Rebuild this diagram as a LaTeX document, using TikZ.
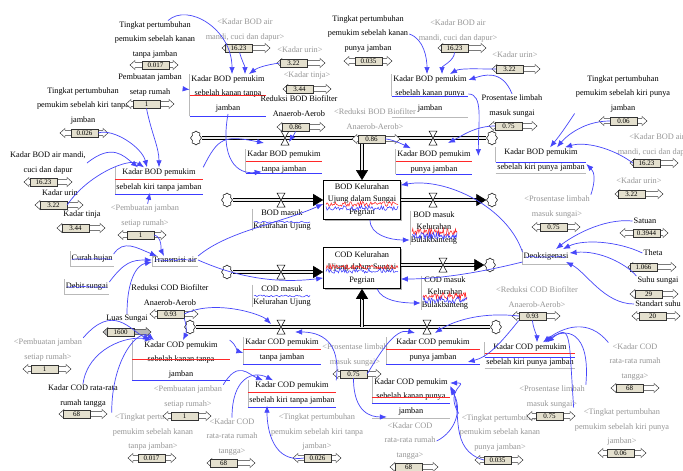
\documentclass[tikz,border=0pt]{standalone}
\usepackage{fontspec}
\setmainfont{Liberation Serif}
\usetikzlibrary{arrows.meta,shapes.symbols,shadows}

\definecolor{linkblue}{RGB}{70,70,250}
\definecolor{shadowgray}{RGB}{150,150,150}
\definecolor{thumbc}{RGB}{228,224,206}
\definecolor{tracered}{RGB}{255,40,40}
\definecolor{traceblue}{RGB}{60,60,255}

\newcommand\vfont{\fontsize{8.3}{14.5}\selectfont}
% slider: [fill] name, x, y, thumb offset, value
\newcommand\slidr[6][white]{%
  \draw[sliderbody,fill=#1] (#3,#4) ++(-24,0) -- ++(5,-4.5) -- ++(0,1.8) -- ++(38,0) -- ++(0,-1.8)
    -- ++(5,4.5) -- ++(-5,4.5) -- ++(0,-1.8) -- ++(-38,0) -- ++(0,1.8) -- cycle;
  \node[thumb] (#2) at ({#3-24+#5+13.5},#4) {#6};}
% valve on a pipe
\newcommand\valve[3]{%
  \coordinate (#1) at (#2,#3);
  \draw[valvebody] ([shift={(-4pt,7pt)}]#1) -- ++(8pt,0pt) -- ++(-8pt,-14pt) -- ++(8pt,0pt) -- cycle;}
% auxiliary with its red and blue traces: name, x, y, width, text, red y, blue y
\newcommand\auxvar[7]{%
  \node[auxname,minimum width=#4] (#1) at (#2,#3) {#5};
  \draw[boxedge] (#1.north west) -- (#1.west |- 0,#7);
  \draw[redtrace] (#1.west |- 0,#6) -- (#1.east |- 0,#6);
  \draw[bluetrace] (#1.west |- 0,#7) -- (#1.east |- 0,#7);}
% noisy trace: style, x1, x2, samples, y, amplitude
\newcommand\trc[6]{%
  \draw[#1,line width=0.55pt] plot[variable=\t,domain=#2:#3,samples=#4] (\t,{#5+#6*rand});}
% rate with a strike trace
\newcommand\ratevar[4]{%
  \node[varname] (#1) at (#2,#3) {#4};
  \draw[boxedge] ([yshift=3pt]#1.north west) -- ([yshift=-2pt]#1.south west) -- ([yshift=-2pt]#1.south east);
  \trc{bluetrace}{#2-20}{#2+20}{25}{#3}{0.6}}

\begin{document}
\begin{tikzpicture}[x=1pt,y=-1pt,
  varname/.style={font=\vfont,align=center,inner sep=1pt},
  shadowname/.style={varname,text=shadowgray},
  flowname/.style={varname,font=\fontsize{8.3}{12.5}\selectfont},
  auxname/.style={varname,inner sep=1.5pt},
  boxedge/.style={draw=gray!55,line width=0.5pt},
  redtrace/.style={draw=tracered,line width=0.7pt},
  bluetrace/.style={draw=traceblue,line width=0.7pt},
  conn/.style={draw=linkblue,line width=0.7pt,-{Latex[length=7pt,width=5.5pt]}},
  pipe/.style={draw=black,double=gray!15,double distance=2.4pt,line width=0.6pt},
  pipehead/.style={draw=black,line width=0.6pt,-{Triangle[length=10pt,width=12pt]}},
  valvebody/.style={draw=black,fill=white,line width=0.5pt},
  cloudend/.style={cloud,cloud puffs=8,cloud ignores aspect,draw=black,fill=white,line width=0.5pt,
    minimum width=11pt,minimum height=14pt,inner sep=0pt},
  stock/.style={draw=black,fill=white,line width=0.6pt,align=center,font=\fontsize{8.3}{12.5}\selectfont,
    drop shadow={fill=gray!60,opacity=1,shadow xshift=1.5pt,shadow yshift=-1.5pt}},
  sliderbody/.style={draw=black!80,line width=0.45pt},
  thumb/.style={draw=black!80,fill=thumbc,line width=0.45pt,minimum width=27pt,minimum height=8.5pt,
    inner sep=0pt,font=\fontsize{7}{7}\selectfont},
]
\pgfmathsetseed{7}
\fill[white] (0,0) rectangle (683,471);
\useasboundingbox (0,0) rectangle (683,471);

% stocks
\node[stock,minimum width=77pt,minimum height=37pt] (bodStock) at (362,200) {BOD Kelurahan\\Ujung dalam Sungai\\Pegrian};
\node[stock,minimum width=77pt,minimum height=41pt] (codStock) at (362,268) {COD Kelurahan\\Ujung dalam Sungai\\Pegrian};
\trc{redtrace}{326}{398}{70}{204}{2.4}
\trc{bluetrace}{326}{398}{70}{208}{2.4}
\trc{redtrace}{326}{398}{70}{267}{2.4}
\trc{bluetrace}{326}{398}{70}{271}{2.4}

% clouds
\node[cloudend] (bodC1) at (196,138) {};
\node[cloudend] (bodC2) at (492,138) {};
\node[cloudend] (bodC3) at (227,200) {};
\node[cloudend] (bodC4) at (492,200) {};
\node[cloudend] (codC1) at (227,272) {};
\node[cloudend] (codC2) at (490,265) {};
\node[cloudend] (codC3) at (190,327) {};
\node[cloudend] (codC4) at (496,327) {};
\coordinate (jB) at (362,138);
\coordinate (jC) at (362,327);

% pipes
\draw[pipe] (bodC1) -- (jB);
\draw[pipe] (bodC2) -- (jB);
\draw[pipe] (jB) -- ([yshift=9pt]bodStock.north);
\draw[pipehead] ([yshift=10pt]bodStock.north) -- (bodStock.north);
\draw[pipe] (bodC3) -- ([xshift=-9pt]bodStock.west);
\draw[pipehead] ([xshift=-10pt]bodStock.west) -- (bodStock.west);
\draw[pipe] (bodStock.east) -- ([xshift=-9pt]bodC4.west);
\draw[pipehead] ([xshift=-10pt]bodC4.west) -- (bodC4.west);
\draw[pipe] (codC1) -- ([shift={(-9pt,-4pt)}]codStock.west);
\draw[pipehead] ([shift={(-10pt,-4pt)}]codStock.west) -- ([yshift=-4pt]codStock.west);
\draw[pipe] ([yshift=3pt]codStock.east) -- ([xshift=-9pt]codC2.west);
\draw[pipehead] ([xshift=-10pt]codC2.west) -- (codC2.west);
\draw[pipe] (codC3) -- (jC);
\draw[pipe] (codC4) -- (jC);
\draw[pipe] (jC) -- ([yshift=-9pt]codStock.south);
\draw[pipehead] ([yshift=-10pt]codStock.south) -- (codStock.south);

\valve{v1}{285}{138}
\valve{v2}{433}{138}
\valve{v3}{281}{200}
\valve{v4}{433}{200}
\valve{v5}{281}{272}
\valve{v6}{443}{265}
\valve{v7}{281}{327}
\valve{v8}{427}{327}

% flow names
\node[flowname] (bodMU) at (282,220) {BOD masuk\\Kelurahan Ujung};
\draw[boxedge] (bodMU.north west) -- (bodMU.south west);
\trc{bluetrace}{254}{310}{40}{222}{0.9}
\node[flowname] (bodMB) at (434,228) {BOD masuk\\Kelurahan\\Bulakbanteng};
\draw[boxedge] (bodMB.north west) -- (bodMB.south west);
\trc{redtrace}{412}{457}{60}{232}{3.5}
\trc{bluetrace}{412}{457}{60}{236}{3.5}
\node[flowname] (codMU) at (282,296) {COD masuk\\Kelurahan Ujung};
\draw[boxedge] (codMU.north west) -- (codMU.south west);
\trc{bluetrace}{254}{310}{40}{296}{0.9}
\node[flowname] (codMB) at (445,293) {COD masuk\\Kelurahan\\Bulakbanteng};
\draw[boxedge] (codMB.north west) -- (codMB.south west);
\trc{redtrace}{423}{467}{60}{296}{3.5}
\trc{bluetrace}{423}{467}{60}{300}{3.5}

% auxiliaries with traces
\auxvar{bodKaTJ}{228}{94}{76pt}{Kadar BOD pemukim\\sebelah kanan tanpa\\jamban}{95}{116}
\auxvar{bodKiTJ}{159}{180}{88pt}{Kadar BOD pemukim\\sebelah kiri tanpa jamban}{179}{194}
\auxvar{bodTJ}{284}{162}{75pt}{Kadar BOD pemukim\\tanpa jamban}{161}{173}
\auxvar{bodKaPJ}{430}{94}{76pt}{Kadar BOD pemukim\\sebelah kanan punya\\jamban}{96}{96}
\auxvar{bodPJ}{434}{162}{75pt}{Kadar BOD pemukim\\punya jamban}{161}{174}
\auxvar{bodKiPJ}{541}{160}{87pt}{Kadar BOD pemukim\\sebelah kiri punya jamban}{162}{162}
\auxvar{codKaTJ}{181}{360}{97pt}{Kadar COD pemukim\\sebelah kanan tanpa\\jamban}{359}{380}
\auxvar{codTJ}{282}{350}{77pt}{Kadar COD pemukim\\tanpa jamban}{349}{364}
\auxvar{codKiTJ}{292}{393}{87pt}{Kadar COD pemukim\\sebelah kiri tanpa jamban}{392}{407}
\auxvar{codPJ}{433}{350}{93pt}{Kadar COD pemukim\\punya jamban}{349}{364}
\auxvar{codKaPJ}{411}{397}{78pt}{Kadar COD pemukim\\sebelah kanan punya\\jamban}{397}{403}
\auxvar{codKiPJ}{530}{355}{89pt}{Kadar COD pemukim\\sebelah kiri punya jamban}{353}{357}
\draw[boxedge] (bodKaPJ.west |- 0,117) -- (bodKaPJ.east |- 0,117);
\draw[boxedge] (bodKiPJ.west |- 0,173) -- (bodKiPJ.east |- 0,173);
\draw[boxedge] (codKaPJ.west |- 0,418) -- (codKaPJ.east |- 0,418);
\draw[boxedge] (codKiPJ.west |- 0,368) -- (codKiPJ.east |- 0,368);

% rates drawn with a strike trace
\ratevar{curah}{92}{259}{Curah hujan}
\ratevar{debit}{87}{287}{Debit sungai}
\ratevar{transm}{175}{260}{Transmisi air}
\ratevar{deoks}{546}{257}{Deoksigenasi}

% constants
\node[varname] (tpKaTJ) at (155,40) {Tingkat pertumbuhan\\pemukim sebelah kanan\\tanpa jamban};
\node[varname] (pbj) at (150,85) {Pembuatan jamban\\setap rumah};
\node[varname] (tpKiTJ) at (83,106) {Tingkat pertumbuhan\\pemukim sebelah kiri tanpa\\jamban};
\node[varname] (airL) at (48,163) {Kadar BOD air mandi,\\cuci dan dapur};
\node[varname] (urinL) at (60,193) {Kadar urin};
\node[varname] (tinjaL) at (82,215) {Kadar tinja};
\node[varname] (redCOD) at (170,295) {Reduksi COD Biofilter\\Anaerob-Aerob};
\node[varname] (luas) at (127,319) {Luas Sungai};
\node[varname] (codRR) at (83,396) {Kadar COD rata-rata\\rumah tangga};
\node[varname] (redBOD) at (299,106) {Reduksi BOD Biofilter\\Anaerob-Aerob};
\node[varname] (tpKaPJ) at (368,34) {Tingkat pertumbuhan\\pemukim sebelah kanan\\punya jamban};
\node[varname] (prosL) at (512,106) {Prosentase limbah\\masuk sungai};
\node[varname] (tpKiPJ) at (623,94) {Tingkat pertumbuhan\\pemukim sebelah kiri punya\\jamban};
\node[varname] (satuan) at (645,221) {Satuan};
\node[varname] (theta) at (653,253) {Theta};
\node[varname] (suhu) at (658,281) {Suhu sungai};
\node[varname] (std) at (658,304) {Standart suhu};

% shadow variables
\node[shadowname] (shPbj1) at (145,216) {<Pembuatan jamban\\setiap rumah>};
\node[shadowname] (shPbj2) at (48,350) {<Pembuatan jamban\\setiap rumah>};
\node[shadowname] (shPbj3) at (188,397) {<Pembuatan jamban\\setiap rumah>};
\node[shadowname] (shTpKaTJ) at (153,432) {<Tingkat pertumbuhan\\pemukim sebelah kanan\\tanpa jamban>};
\node[shadowname] (shCodRR1) at (232,437) {<Kadar COD\\rata-rata rumah\\tangga>};
\node[shadowname] (shAir1) at (245,30) {<Kadar BOD air\\mandi, cuci dan dapur>};
\node[shadowname] (shUrin1) at (300,50) {<Kadar urin>};
\node[shadowname] (shTinja1) at (307,76) {<Kadar tinja>};
\node[shadowname] (shRedBOD) at (375,119) {<Reduksi BOD Biofilter\\Anaerob-Aerob>};
\node[shadowname] (shAir2) at (458,31) {<Kadar BOD air\\mandi, cuci dan dapur>};
\node[shadowname] (shUrin2) at (515,55) {<Kadar urin>};
\node[shadowname] (shAir3) at (657,145) {<Kadar BOD air\\mandi, cuci dan dapur>};
\node[shadowname] (shUrin3) at (639,181) {<Kadar urin>};
\node[shadowname] (shPros1) at (557,207) {<Prosentase limbah\\masuk sungai>};
\node[shadowname] (shRedCOD) at (537,297) {<Reduksi COD Biofilter\\Anaerob-Aerob>};
\node[shadowname] (shCodRR2) at (635,362) {<Kadar COD\\rata-rata rumah\\tangga>};
\node[shadowname] (shPros2) at (552,397) {<Prosentase limbah\\masuk sungai>};
\node[shadowname] (shTpKiPJ) at (622,427) {<Tingkat pertumbuhan\\pemukim sebelah kiri punya\\jamban>};
\node[shadowname] (shTpKaPJ) at (500,433) {<Tingkat pertumbuhan\\pemukim sebelah kanan\\punya jamban>};
\node[shadowname] (shPros3) at (355,355) {<Prosentase limbah\\masuk sungai>};
\node[shadowname] (shTpKiTJ) at (317,432) {<Tingkat pertumbuhan\\pemukim sebelah kiri tanpa\\jamban>};
\node[shadowname] (shCodRR3) at (410,441) {<Kadar COD\\rata-rata rumah\\tangga>};

% sliders
\slidr{s1}{154}{65}{12}{0.017}
\slidr{s2}{150}{104}{7}{1}
\slidr{s3}{84}{133}{11}{0.026}
\slidr{s4}{48}{182}{6}{16.23}
\slidr{s5}{59}{205}{5}{3.22}
\slidr{s6}{81}{228}{5}{3.44}
\slidr{s7}{142}{235}{9}{1}
\slidr{s8}{174}{314}{7}{0.93}
\slidr[gray!55]{s9}{127}{332}{4}{1600}
\slidr{s10}{47}{369}{8}{1}
\slidr{s11}{83}{414}{4}{68}
\slidr{s12}{187}{416}{8}{1}
\slidr{s13}{152}{458}{10}{0.017}
\slidr{s14}{231}{463}{3}{68}
\slidr{s15}{246}{48}{3}{16.23}
\slidr{s16}{301}{63}{3}{3.22}
\slidr{s17}{307}{89}{3}{3.44}
\slidr{s18}{301}{127}{5}{0.86}
\slidr{s19}{368}{61}{11}{0.035}
\slidr{s20}{376}{139}{6}{0.86}
\slidr{s21}{462}{48}{3}{16.23}
\slidr{s22}{516}{69}{4}{3.22}
\slidr{s23}{513}{126}{6}{0.75}
\slidr{s24}{623}{121}{11}{0.06}
\slidr{s25}{654}{163}{3}{16.23}
\slidr{s26}{639}{194}{3}{3.22}
\slidr{s27}{556}{227}{8}{0.75}
\slidr{s28}{644}{233}{13}{0.3944}
\slidr{s29}{652}{267}{2}{1.066}
\slidr{s30}{654}{294}{5}{29}
\slidr{s31}{656}{316}{7}{20}
\slidr{s32}{536}{316}{7}{0.93}
\slidr{s33}{635}{388}{5}{68}
\slidr{s34}{551}{416}{9}{0.75}
\slidr{s35}{622}{453}{9}{0.06}
\slidr{s36}{499}{460}{9}{0.035}
\slidr{s37}{357}{374}{7}{0.75}
\slidr{s38}{317}{458}{11}{0.026}
\slidr{s39}{414}{467}{5}{68}

% connectors, BOD side
\draw[conn] ([xshift=13pt]tpKaTJ.north) .. controls +(20,-18) and +(0,-45) .. ([xshift=4pt]bodKaTJ.north);
\draw[conn] (s15) .. controls +(3,12) and +(0,-8) .. ([xshift=17pt]bodKaTJ.north);
\draw[conn] (s16.west) .. controls +(-15,2) and +(8,-6) .. ([xshift=21pt]bodKaTJ.north);
\draw[conn] (pbj) -- (bodKaTJ);
\draw[conn] (airL.east) .. controls +(25,-20) and +(-15,-12) .. ([xshift=-21pt]bodKiTJ.north);
\draw[conn] (s5.east) .. controls +(20,-30) and +(-15,-10) .. ([xshift=-15pt]bodKiTJ.north);
\draw[conn] (s3.east) .. controls +(15,-5) and +(-5,-20) .. ([xshift=-12pt]bodKiTJ.north);
\draw[conn] (s2.south) .. controls +(5,25) and +(0,-20) .. (bodKiTJ.north);
\draw[conn] (shPbj1) -- ([xshift=-9pt]bodKiTJ.south);
\draw[conn] (bodKiTJ.north east) .. controls +(15,-30) and +(-40,-8) .. ([shift={(-21pt,-5pt)}]v1);
\draw[conn] (bodKaTJ.south) .. controls +(-8,45) and +(-25,3) .. ([xshift=16pt,yshift=3pt]bodTJ.south west);
\draw[conn] (s18.south) .. controls +(-2,5) and +(3,-5) .. ([shift={(4pt,-4pt)}]v1);
\draw[conn] (s20.east) .. controls +(6,0) and +(-8,-4) .. ([xshift=15pt,yshift=1pt]bodPJ.north west);
\draw[conn] (s23.west) .. controls +(-20,0) and +(12,-6) .. ([shift={(15pt,-5pt)}]v2);
\draw[conn] (bodKaPJ.east) .. controls +(15,0) and +(0,-35) .. ([shift={(6pt,6pt)}]bodPJ.east);
\draw[conn] (tpKaPJ.east) .. controls +(15,5) and +(0,-15) .. ([xshift=-3pt]bodKaPJ.north);
\draw[conn] (s21.south) .. controls +(0,8) and +(0,-8) .. ([xshift=12pt]bodKaPJ.north);
\draw[conn] (s22.west) .. controls +(-20,0) and +(10,-6) .. ([xshift=20pt]bodKaPJ.north);
\draw[conn] (prosL.north) .. controls +(-10,-25) and +(15,-5) .. ([yshift=-6pt]bodKaPJ.north east);
\draw[conn] (tpKiPJ.south west) .. controls +(-10,15) and +(10,-12) .. ([xshift=9pt]bodKiPJ.north);
\draw[conn] (s24.west) .. controls +(-25,0) and +(10,-12) .. ([xshift=16pt]bodKiPJ.north);
\draw[conn] (s25.west) .. controls +(-20,-15) and +(20,-6) .. ([xshift=24pt]bodKiPJ.north);
\draw[conn] (shPros1.north east) .. controls +(5,-15) and +(8,8) .. ([yshift=-4pt]bodKiPJ.east);
\draw[conn] (satuan.west) .. controls +(-30,-3) and +(15,-12) .. ([xshift=10pt,yshift=3pt]deoks.north);
\draw[conn] (theta.west) .. controls +(-25,-12) and +(20,-10) .. ([xshift=17pt,yshift=3pt]deoks.north);
\draw[conn] (suhu.north west) .. controls +(-10,-12) and +(30,-3) .. ([yshift=4pt]deoks.east);
\draw[conn] (std.west) .. controls +(-30,0) and +(20,10) .. ([xshift=20pt]deoks.south);
\draw[conn] (deoks.north west) .. controls +(-15,-45) and +(45,-8) .. ([yshift=-5pt]bodStock.north east);
\draw[conn] (deoks.south west) .. controls +(-40,10) and +(40,0) .. ([yshift=-11pt]codStock.east);
\draw[conn] ([xshift=8pt]bodStock.south) .. controls +(0,15) and +(-20,0) .. ([yshift=-12pt]bodMB.west);
\draw[conn] ([xshift=15pt]codStock.south) .. controls +(5,12) and +(-20,0) .. ([yshift=-10pt]codMB.west);
\draw[conn] (curah.north east) .. controls +(10,-15) and +(-20,-8) .. ([xshift=-18pt]transm.north);
\draw[conn] (s7.east) .. controls +(8,2) and +(-3,-6) .. ([xshift=-11pt]transm.north);
\draw[conn] (debit.north east) .. controls +(15,-20) and +(-20,0) .. (transm.west);
\draw[conn] (luas.north) .. controls +(0,-35) and +(-15,3) .. ([yshift=-2pt]transm.west);
\draw[conn] (transm.north east) .. controls +(30,-25) and +(-45,20) .. ([yshift=-4pt]bodStock.west);
\draw[conn] (transm.east) .. controls +(45,20) and +(-40,5) .. ([yshift=-10pt]codStock.west);

% connectors, COD side
\draw[conn] (s8.east) .. controls +(30,-15) and +(-10,-10) .. ([shift={(-10pt,3pt)}]v7);
\draw[conn] (s8.south east) .. controls +(3,8) and +(3,-6) .. ([xshift=2pt]codKaTJ.north);
\draw[conn] (codKiTJ.north east) .. controls +(5,-40) and +(25,0) .. ([shift={(14pt,-5pt)}]v7);
\draw[conn] (codKaTJ.north east) .. controls +(6,4) and +(-6,-2) .. ([yshift=-3pt]codTJ.west);
\draw[conn] (shPbj2.north east) .. controls +(30,-35) and +(-20,-10) .. ([xshift=-31pt]codKaTJ.north);
\draw[conn] (codRR.north) .. controls +(5,-35) and +(-25,-5) .. ([xshift=-29pt]codKaTJ.north);
\draw[conn] (shTpKaTJ.north west) .. controls +(0,-55) and +(-15,-12) .. ([xshift=-27pt]codKaTJ.north);
\draw[conn] (shPbj3.north east) .. controls +(15,-25) and +(-15,-6) .. ([xshift=-29pt]codKiTJ.north);
\draw[conn] (shCodRR1.north) .. controls +(0,-40) and +(-20,-10) .. ([xshift=-19pt]codKiTJ.north);
\draw[conn] (s38.west) .. controls +(-30,5) and +(0,25) .. ([xshift=-25pt]codKiTJ.south);
\draw[conn] (s37.east) .. controls +(12,-20) and +(-20,-5) .. ([shift={(-12pt,-6pt)}]v8);
\draw[conn] (s32.west) .. controls +(-45,-5) and +(12,-8) .. ([shift={(8pt,-6pt)}]v8);
\draw[conn] (s32.south west) .. controls +(-20,25) and +(20,-5) .. ([xshift=-12pt,yshift=-12pt]codPJ.east);
\draw[conn] (s37.south) .. controls +(0,35) and +(-15,0) .. ([xshift=15pt]codKaPJ.south west);
\draw[conn] (shTpKaPJ.north west) .. controls +(-15,-25) and +(20,0) .. ([yshift=14pt]codKaPJ.east);
\draw[conn] (s36.west) .. controls +(-35,-10) and +(12,25) .. ([yshift=11pt]codKaPJ.east);
\draw[conn] (shCodRR3.east) .. controls +(20,-10) and +(12,20) .. ([yshift=9pt]codKaPJ.east);
\draw[conn] (s32.south) .. controls +(0,5) and +(0,-5) .. ([xshift=7pt]codKiPJ.north);
\draw[conn] (shCodRR2.north west) .. controls +(-20,-25) and +(20,-15) .. ([xshift=13pt]codKiPJ.north);
\draw[conn] (shTpKiPJ.north west) .. controls +(-5,-70) and +(25,-20) .. ([xshift=17pt]codKiPJ.north);
\draw[conn] (shPros2.north east) .. controls +(5,-55) and +(20,-15) .. ([xshift=15pt]codKiPJ.north);
\end{tikzpicture}
\end{document}
